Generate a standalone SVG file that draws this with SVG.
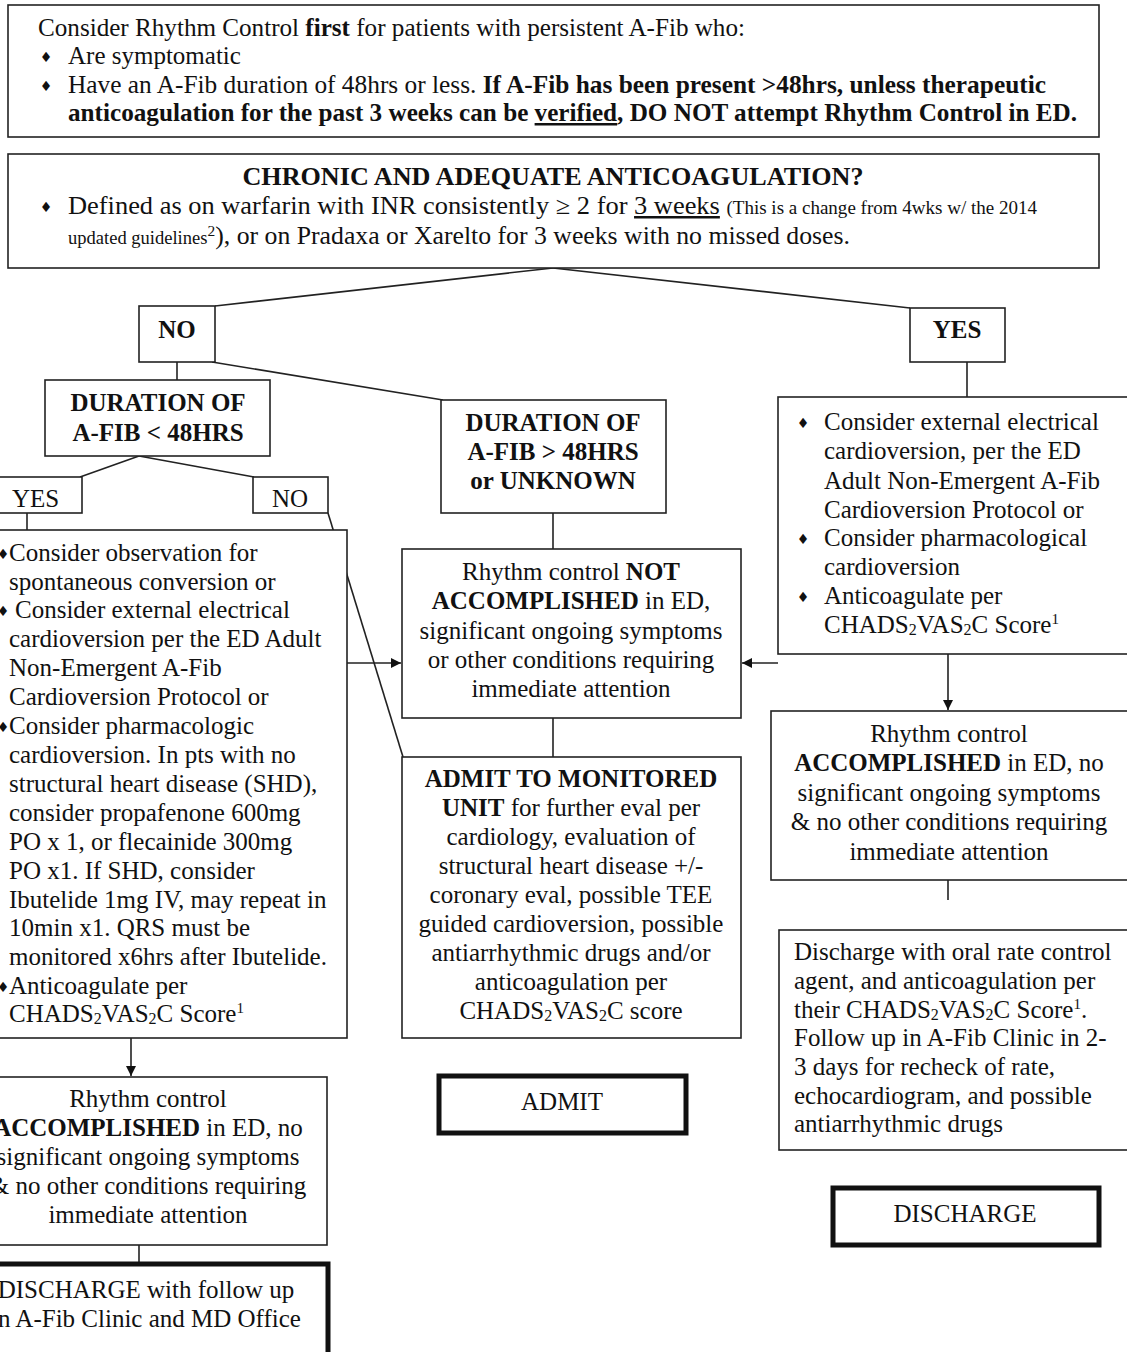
<svg xmlns="http://www.w3.org/2000/svg" width="1127" height="1352" viewBox="0 0 1127 1352">
<style>
text{font-family:"Liberation Serif","Times New Roman",serif;font-size:25px;fill:#111}
.b{font-weight:bold}
.c{text-anchor:middle}
.sm{font-size:18px}
.sub{font-size:16px}
.sup{font-size:15px}
.bul{font-family:"DejaVu Sans",sans-serif;font-size:14px;text-anchor:middle}
.box{fill:#fff;stroke:#222;stroke-width:1.6}
.thick{fill:#fff;stroke:#111;stroke-width:5}
.ln{stroke:#222;stroke-width:1.6;fill:none}
</style>
<defs>
<marker id="ah" viewBox="0 0 10 10" refX="10" refY="5" markerWidth="10" markerHeight="10" markerUnits="userSpaceOnUse" orient="auto">
<path d="M0,0 L10,5 L0,10 z" fill="#111"/>
</marker>
</defs>
<rect width="1127" height="1352" fill="#fff"/>

<g id="connectors">
<line class="ln" x1="553" y1="268" x2="215" y2="306"/>
<line class="ln" x1="553" y1="268" x2="910" y2="308"/>
<line class="ln" x1="177" y1="362" x2="177" y2="380"/>
<line class="ln" x1="212" y1="362" x2="443" y2="400"/>
<line class="ln" x1="139" y1="456" x2="80" y2="477"/>
<line class="ln" x1="139" y1="456" x2="254" y2="477"/>
<line class="ln" x1="27" y1="513" x2="27" y2="530"/>
<line class="ln" x1="328" y1="513" x2="403" y2="757"/>
<line class="ln" x1="553" y1="513" x2="553" y2="549"/>
<line class="ln" x1="553" y1="718" x2="553" y2="757"/>
<line class="ln" x1="967" y1="362" x2="967" y2="397"/>
<line class="ln" x1="347" y1="663" x2="401" y2="663" marker-end="url(#ah)"/>
<line class="ln" x1="778" y1="663" x2="742" y2="663" marker-end="url(#ah)"/>
<line class="ln" x1="948" y1="654" x2="948" y2="710" marker-end="url(#ah)"/>
<line class="ln" x1="948" y1="880" x2="948" y2="900"/>
<line class="ln" x1="131" y1="1038" x2="131" y2="1076" marker-end="url(#ah)"/>
<line class="ln" x1="139" y1="1245" x2="139" y2="1264"/>
</g>

<g id="intro">
<rect class="box" x="8" y="5" width="1091" height="132"/>
<text x="38" y="36" textLength="707" lengthAdjust="spacingAndGlyphs">Consider Rhythm Control <tspan class="b">first</tspan> for patients with persistent A-Fib who:</text>
<text class="bul" x="46" y="62">♦</text>
<text x="68" y="64">Are symptomatic</text>
<text class="bul" x="46" y="91">♦</text>
<text x="68" y="93" textLength="978" lengthAdjust="spacingAndGlyphs">Have an A-Fib duration of 48hrs or less.  <tspan class="b">If A-Fib has been present &gt;48hrs, unless therapeutic</tspan></text>
<text class="b" x="68" y="121" textLength="1009" lengthAdjust="spacingAndGlyphs">anticoagulation  for the past 3 weeks can be <tspan text-decoration="underline">verified</tspan>, DO NOT attempt Rhythm Control in ED.</text>
</g>

<g id="chronic">
<rect class="box" x="8" y="154" width="1091" height="114"/>
<text class="b c" x="553" y="185" textLength="621" lengthAdjust="spacingAndGlyphs">CHRONIC AND ADEQUATE ANTICOAGULATION?</text>
<text class="bul" x="46" y="212">♦</text>
<text x="68" y="214" textLength="969" lengthAdjust="spacingAndGlyphs">Defined as on warfarin with INR consistently ≥ 2 for <tspan text-decoration="underline">3 weeks</tspan> <tspan class="sm">(This is a change from 4wks w/ the 2014</tspan></text>
<text x="68" y="244" textLength="782" lengthAdjust="spacingAndGlyphs"><tspan class="sm">updated guidelines</tspan><tspan class="sup" dy="-8">2</tspan><tspan dy="8">), or on Pradaxa or Xarelto for 3 weeks with no missed doses.</tspan></text>
</g>

<g id="no">
<rect class="box" x="139" y="306" width="76" height="56"/>
<text class="b c" x="177" y="338">NO</text>
</g>

<g id="yes">
<rect class="box" x="910" y="308" width="95" height="54"/>
<text class="b c" x="957" y="338">YES</text>
</g>

<g id="dur-lt48">
<rect class="box" x="45" y="380" width="225" height="76"/>
<text class="b c" x="158" y="411">DURATION OF</text>
<text class="b c" x="158" y="441">A-FIB &lt; 48HRS</text>
</g>

<g id="dur-gt48">
<rect class="box" x="441" y="400" width="225" height="113"/>
<text class="b c" x="553" y="431">DURATION OF</text>
<text class="b c" x="553" y="460">A-FIB &gt; 48HRS</text>
<text class="b c" x="553" y="489">or UNKNOWN</text>
</g>

<g id="yes-small">
<rect class="box" x="-10" y="477" width="92" height="36"/>
<text x="12" y="507">YES</text>
</g>

<g id="no-small">
<rect class="box" x="253" y="477" width="75" height="36"/>
<text class="c" x="290" y="507">NO</text>
</g>

<g id="left-options">
<rect class="box" x="-10" y="530" width="357" height="508"/>
<text class="bul" x="3" y="559">♦</text>
<text x="9" y="561">Consider observation for</text>
<text x="9" y="590">spontaneous conversion  or</text>
<text class="bul" x="3" y="616">♦</text>
<text x="15" y="618">Consider external electrical</text>
<text x="9" y="647">cardioversion per the ED Adult</text>
<text x="9" y="676">Non-Emergent A-Fib</text>
<text x="9" y="705">Cardioversion Protocol or</text>
<text class="bul" x="3" y="732">♦</text>
<text x="9" y="734">Consider pharmacologic</text>
<text x="9" y="763">cardioversion. In pts with no</text>
<text x="9" y="792">structural heart disease (SHD),</text>
<text x="9" y="821">consider propafenone 600mg</text>
<text x="9" y="850">PO x 1, or flecainide 300mg</text>
<text x="9" y="879">PO x1.  If SHD, consider</text>
<text x="9" y="908">Ibutelide 1mg IV, may repeat in</text>
<text x="9" y="936">10min x1. QRS must be</text>
<text x="9" y="965">monitored x6hrs after Ibutelide.</text>
<text class="bul" x="3" y="992">♦</text>
<text x="9" y="994">Anticoagulate per</text>
<text x="9" y="1022">CHADS<tspan class="sub" dy="2">2</tspan><tspan dy="-2">VAS</tspan><tspan class="sub" dy="2">2</tspan><tspan dy="-2">C Score</tspan><tspan class="sup" dy="-9">1</tspan></text>
</g>

<g id="not-accomplished">
<rect class="box" x="402" y="549" width="339" height="169"/>
<text class="c" x="571" y="580">Rhythm control <tspan class="b">NOT</tspan></text>
<text class="c" x="571" y="609"><tspan class="b">ACCOMPLISHED</tspan> in ED,</text>
<text class="c" x="571" y="639">significant ongoing symptoms</text>
<text class="c" x="571" y="668">or other conditions requiring</text>
<text class="c" x="571" y="697">immediate attention</text>
</g>

<g id="admit-unit">
<rect class="box" x="402" y="757" width="339" height="281"/>
<text class="c b" x="571" y="787">ADMIT TO MONITORED</text>
<text class="c" x="571" y="816"><tspan class="b">UNIT</tspan> for further eval per</text>
<text class="c" x="571" y="845">cardiology, evaluation of</text>
<text class="c" x="571" y="874">structural heart disease +/-</text>
<text class="c" x="571" y="903">coronary eval, possible TEE</text>
<text class="c" x="571" y="932">guided cardioversion, possible</text>
<text class="c" x="571" y="961">antiarrhythmic drugs and/or</text>
<text class="c" x="571" y="990">anticoagulation per</text>
<text class="c" x="571" y="1019">CHADS<tspan class="sub" dy="2">2</tspan><tspan dy="-2">VAS</tspan><tspan class="sub" dy="2">2</tspan><tspan dy="-2">C score</tspan></text>
</g>

<g id="right-options">
<rect class="box" x="778" y="397" width="360" height="257"/>
<text class="bul" x="803" y="428">♦</text>
<text x="824" y="430">Consider external electrical</text>
<text x="824" y="459">cardioversion, per the ED</text>
<text x="824" y="489">Adult Non-Emergent A-Fib</text>
<text x="824" y="518">Cardioversion Protocol or</text>
<text class="bul" x="803" y="544">♦</text>
<text x="824" y="546">Consider pharmacological</text>
<text x="824" y="575">cardioversion</text>
<text class="bul" x="803" y="602">♦</text>
<text x="824" y="604">Anticoagulate per</text>
<text x="824" y="633">CHADS<tspan class="sub" dy="2">2</tspan><tspan dy="-2">VAS</tspan><tspan class="sub" dy="2">2</tspan><tspan dy="-2">C Score</tspan><tspan class="sup" dy="-9">1</tspan></text>
</g>

<g id="right-accomplished">
<rect class="box" x="771" y="711" width="367" height="169"/>
<text class="c" x="949" y="742">Rhythm control</text>
<text class="c" x="949" y="771"><tspan class="b">ACCOMPLISHED</tspan> in ED, no</text>
<text class="c" x="949" y="801">significant ongoing symptoms</text>
<text class="c" x="949" y="830">&amp; no other conditions requiring</text>
<text class="c" x="949" y="860">immediate attention</text>
</g>

<g id="discharge-oral">
<rect class="box" x="779" y="930" width="359" height="220"/>
<text x="794" y="960">Discharge with oral rate control</text>
<text x="794" y="989">agent, and anticoagulation per</text>
<text x="794" y="1018">their CHADS<tspan class="sub" dy="2">2</tspan><tspan dy="-2">VAS</tspan><tspan class="sub" dy="2">2</tspan><tspan dy="-2">C Score</tspan><tspan class="sup" dy="-9">1</tspan><tspan dy="9">.</tspan></text>
<text x="794" y="1046">Follow up in A-Fib Clinic in 2-</text>
<text x="794" y="1075">3 days for recheck of rate,</text>
<text x="794" y="1104">echocardiogram, and possible</text>
<text x="794" y="1132">antiarrhythmic drugs</text>
</g>

<g id="admit">
<rect class="thick" x="439" y="1076" width="247" height="57"/>
<text class="c" x="562" y="1110">ADMIT</text>
</g>

<g id="discharge">
<rect class="thick" x="833" y="1188" width="266" height="57"/>
<text class="c" x="965" y="1222">DISCHARGE</text>
</g>

<g id="left-accomplished">
<rect class="box" x="-10" y="1077" width="337" height="168"/>
<text class="c" x="148" y="1107">Rhythm control</text>
<text class="c" x="148" y="1136"><tspan class="b">ACCOMPLISHED</tspan> in ED, no</text>
<text class="c" x="148" y="1165">significant ongoing symptoms</text>
<text class="c" x="148" y="1194">&amp; no other conditions requiring</text>
<text class="c" x="148" y="1223">immediate attention</text>
</g>

<g id="left-discharge">
<rect class="thick" x="-10" y="1264" width="338" height="100"/>
<text class="c" x="146" y="1298">DISCHARGE with follow up</text>
<text class="c" x="146" y="1327">in A-Fib Clinic and MD Office</text>
</g>
</svg>
